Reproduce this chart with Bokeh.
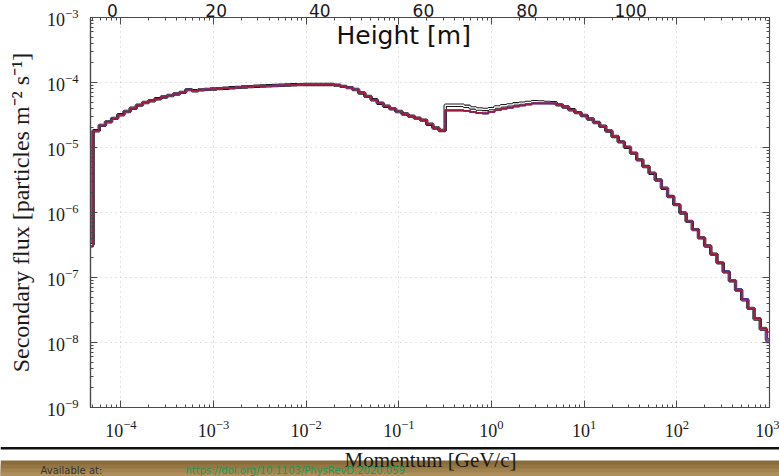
import numpy as np
from bokeh.plotting import figure
from bokeh.layouts import column
from bokeh.models import (LogAxis, LinearAxis, Range1d, FixedTicker, LogTicker, LinearScale,
                          BoxAnnotation, Label, CustomJSTickFormatter)
from bokeh.embed import file_html
from bokeh.resources import INLINE

# Momentum binning: fifteen logarithmic bins per decade starting at 10^-4.3 GeV/c,
# preceded by one low bin whose edge closes the histogram on the left
bin_edges = np.logspace(-4.3 - 1 / 15, -4.3 + 110 / 15, 112)

# Secondary flux per bin [particles m^-2 s^-1]
flux_red = [
    3.0e-7,
    1.81e-5, 2.19e-5, 2.48e-5, 2.81e-5, 3.19e-5, 3.58e-5, 4.01e-5, 4.48e-5, 4.92e-5, 5.25e-5,
    5.61e-5, 5.97e-5, 6.31e-5, 6.67e-5, 7.06e-5, 7.76e-5, 7.46e-5, 7.69e-5, 7.83e-5, 7.94e-5,
    8.05e-5, 8.17e-5, 8.29e-5, 8.41e-5, 8.53e-5, 8.65e-5, 8.75e-5, 8.83e-5, 8.91e-5, 8.98e-5,
    9.06e-5, 9.14e-5, 9.21e-5, 9.29e-5, 9.33e-5, 9.33e-5, 9.33e-5, 9.33e-5, 9.33e-5, 9.12e-5,
    8.73e-5, 8.35e-5, 7.80e-5, 6.90e-5, 6.11e-5, 5.42e-5, 4.80e-5, 4.31e-5, 3.93e-5, 3.58e-5,
    3.27e-5, 3.04e-5, 2.83e-5, 2.64e-5, 2.28e-5, 1.99e-5, 1.83e-5, 3.72e-5, 3.72e-5, 3.72e-5,
    3.66e-5, 3.53e-5, 3.40e-5, 3.35e-5, 3.54e-5, 3.74e-5, 3.95e-5, 4.12e-5, 4.28e-5, 4.45e-5,
    4.62e-5, 4.79e-5, 4.79e-5, 4.79e-5, 4.79e-5, 4.53e-5, 4.20e-5, 3.80e-5, 3.44e-5, 3.11e-5,
    2.74e-5, 2.42e-5, 2.12e-5, 1.79e-5, 1.48e-5, 1.22e-5, 1.01e-5, 8.20e-6, 6.46e-6, 5.09e-6,
    4.02e-6, 3.16e-6, 2.36e-6, 1.76e-6, 1.32e-6, 9.82e-7, 7.31e-7, 5.46e-7, 4.07e-7, 3.05e-7,
    2.28e-7, 1.68e-7, 1.22e-7, 8.91e-8, 6.41e-8, 4.61e-8, 3.30e-8, 2.35e-8, 1.66e-8, 1.45e-8,
]
flux_black = [
    3.2e-7,
    1.81e-5, 2.19e-5, 2.48e-5, 2.81e-5, 3.19e-5, 3.58e-5, 4.01e-5, 4.48e-5, 4.92e-5, 5.25e-5,
    5.61e-5, 5.97e-5, 6.31e-5, 6.67e-5, 7.06e-5, 7.76e-5, 7.46e-5, 7.69e-5, 7.83e-5, 7.94e-5,
    8.05e-5, 8.17e-5, 8.29e-5, 8.41e-5, 8.53e-5, 8.65e-5, 8.75e-5, 8.83e-5, 8.91e-5, 8.98e-5,
    9.06e-5, 9.14e-5, 9.21e-5, 9.29e-5, 9.33e-5, 9.33e-5, 9.33e-5, 9.33e-5, 9.33e-5, 9.12e-5,
    8.73e-5, 8.35e-5, 7.80e-5, 6.90e-5, 6.11e-5, 5.42e-5, 4.80e-5, 4.31e-5, 3.93e-5, 3.58e-5,
    3.27e-5, 3.04e-5, 2.83e-5, 2.64e-5, 2.28e-5, 1.99e-5, 1.83e-5, 4.47e-5, 4.47e-5, 4.47e-5,
    4.30e-5, 4.06e-5, 3.91e-5, 3.85e-5, 3.97e-5, 4.20e-5, 4.39e-5, 4.52e-5, 4.70e-5, 4.82e-5,
    4.95e-5, 5.07e-5, 5.01e-5, 4.95e-5, 4.90e-5, 4.53e-5, 4.20e-5, 3.80e-5, 3.44e-5, 3.11e-5,
    2.74e-5, 2.42e-5, 2.12e-5, 1.79e-5, 1.48e-5, 1.22e-5, 1.01e-5, 8.20e-6, 6.46e-6, 5.09e-6,
    4.02e-6, 3.16e-6, 2.36e-6, 1.76e-6, 1.32e-6, 9.82e-7, 7.31e-7, 5.46e-7, 4.07e-7, 3.05e-7,
    2.28e-7, 1.68e-7, 1.22e-7, 8.91e-8, 6.41e-8, 4.55e-8, 3.35e-8, 2.30e-8, 1.60e-8, 1.10e-8,
]
# The remaining heights coincide with the red curve below 10^2.3 GeV/c
flux_purple = flux_red[:101] + [2.25e-7, 1.70e-7, 1.20e-7, 9.10e-8, 6.30e-8,
                                4.50e-8, 3.35e-8, 2.28e-8, 1.58e-8, 1.05e-8]
flux_blue = flux_red[:101] + [2.30e-7, 1.66e-7, 1.24e-7, 8.80e-8, 6.50e-8,
                              4.70e-8, 3.25e-8, 2.40e-8, 1.62e-8, 1.00e-8]
flux_green = flux_red[:101] + [2.27e-7, 1.69e-7, 1.21e-7, 8.95e-8, 6.38e-8,
                               4.65e-8, 3.28e-8, 2.38e-8, 1.70e-8, 1.12e-8]

# Labels of the height scale shown along the top edge
height_ticks = [0, 20, 40, 60, 80, 100]

SERIF = "Liberation Serif"
SANS = "DejaVu Sans"
FRAME = "#4a4a4a"
TEXT = "#1a1a1a"

p = figure(width=779, height=446, x_axis_type="log", y_axis_type="log",
           x_range=Range1d(4.7e-5, 1e3), y_range=Range1d(1e-9, 1e-3),
           output_backend="svg", toolbar_location=None,
           min_border_left=90, min_border_right=10, min_border_top=17,
           min_border_bottom=39)
p.background_fill_color = "white"
p.border_fill_color = "white"
p.outline_line_color = FRAME
p.outline_line_width = 1.2

for ax in (p.xaxis[0], p.yaxis[0]):
    ax.ticker = LogTicker(num_minor_ticks=10)
    ax.major_tick_in = 7
    ax.major_tick_out = 0
    ax.minor_tick_in = 3
    ax.minor_tick_out = 0
    ax.major_tick_line_color = FRAME
    ax.minor_tick_line_color = FRAME
    ax.axis_line_color = FRAME
    ax.axis_line_width = 1.2
    ax.major_label_text_font = SERIF
    ax.major_label_text_font_size = "18px"
    ax.major_label_text_color = TEXT
    ax.axis_label_text_font = SERIF
    ax.axis_label_text_font_style = "normal"
    ax.axis_label_text_color = TEXT

p.xaxis[0].major_label_standoff = 12
p.yaxis[0].axis_label = "Secondary flux [particles m\u207b\u00b2 s\u207b\u00b9]"
p.yaxis[0].axis_label_text_font_size = "24px"
p.yaxis[0].major_label_standoff = 12
p.yaxis[0].axis_label_standoff = 10

# Mirrored log ticks on the right and top edges (no labels)
blank = CustomJSTickFormatter(code="return ''")
def mirror_axis():
    return LogAxis(ticker=LogTicker(num_minor_ticks=10), formatter=blank,
                   major_tick_in=7, major_tick_out=0, minor_tick_in=3, minor_tick_out=0,
                   major_label_text_font_size="1px", major_label_standoff=0,
                   axis_line_color=FRAME, major_tick_line_color=FRAME,
                   minor_tick_line_color=FRAME)
p.add_layout(mirror_axis(), "right")
p.add_layout(mirror_axis(), "above")

# Height scale along the top
p.extra_x_ranges = {"height": Range1d(-4.25, 126.8)}
p.extra_x_scales = {"height": LinearScale()}
height_axis = LinearAxis(x_range_name="height", ticker=FixedTicker(ticks=height_ticks),
                         major_tick_in=0, major_tick_out=0, minor_tick_in=0, minor_tick_out=0,
                         axis_line_color=None, major_label_standoff=1,
                         major_label_text_font=SANS, major_label_text_font_size="17px",
                         major_label_text_color=TEXT)
p.add_layout(height_axis, "above")

p.grid.grid_line_color = "#c4c4c4"
p.grid.grid_line_dash = "1 4"
p.grid.grid_line_width = 1
p.xgrid.ticker = p.xaxis[0].ticker
p.ygrid.ticker = p.yaxis[0].ticker

# Step histograms
edges = list(bin_edges)
def steps(values):
    return edges, list(values) + [values[-1]]

xs, ys = steps(flux_black)
p.step(xs, ys, mode="after", line_color="#1a1a1a", line_width=3.4)
p.step(xs, ys, mode="after", line_color="white", line_width=1.3)
for vals, col in ((flux_green, "#2a9a4a"), (flux_blue, "#2846c8"),
                  (flux_purple, "#8a3fa8"), (flux_red, "#9c1b3f")):
    xs, ys = steps(vals)
    p.step(xs, ys, mode="after", line_color=col, line_width=1.7)

p.add_layout(Label(x=56.2, y=5.3e-4, x_range_name="height", text="Height [m]",
                   text_font=SANS, text_font_size="25px", text_align="center",
                   text_baseline="middle", text_color="#111111"))

# Footer: separator rule, x-axis title and the source strip
footer = figure(width=779, height=30, x_range=Range1d(0, 779), y_range=Range1d(0, 30),
                output_backend="svg", toolbar_location=None,
                x_axis_location=None, y_axis_location=None, min_border=0)
if "frame_align" in footer.properties():
    footer.frame_align = False
    p.frame_align = False
footer.grid.visible = False
footer.outline_line_color = None
footer.background_fill_color = "white"
footer.border_fill_color = "white"
footer.add_layout(BoxAnnotation(left=0, right=779, top=29.5, bottom=27, fill_color="#111111",
                                fill_alpha=1, line_color=None))
# Tan strip, darker at its top edge; each band is drawn over the one above it
band_colors = ["#8a6b3a", "#957643", "#a2834f", "#ae905c"]
band_tops = [16, 12, 8, 4]
for top, c in zip(band_tops, band_colors):
    footer.add_layout(BoxAnnotation(left=0, right=779, top=top, bottom=-1,
                                    fill_color=c, fill_alpha=1, line_color=None))
footer.add_layout(Label(x=430, y=16.5, text="Momentum [GeV/c]", text_font=SERIF,
                        text_font_size="21px", text_align="center", text_baseline="middle",
                        text_color=TEXT))
footer.add_layout(Label(x=40, y=6, text="Available at:", text_font=SANS,
                        text_font_size="10px", text_baseline="middle", text_color="#333333"))
footer.add_layout(Label(x=185, y=6, text="https://doi.org/10.1103/PhysRevD.2020.059",
                        text_font=SANS, text_font_size="10px", text_baseline="middle",
                        text_color="#149a56"))

open("out.html", "w").write(file_html(column(p, footer, spacing=0), INLINE))
